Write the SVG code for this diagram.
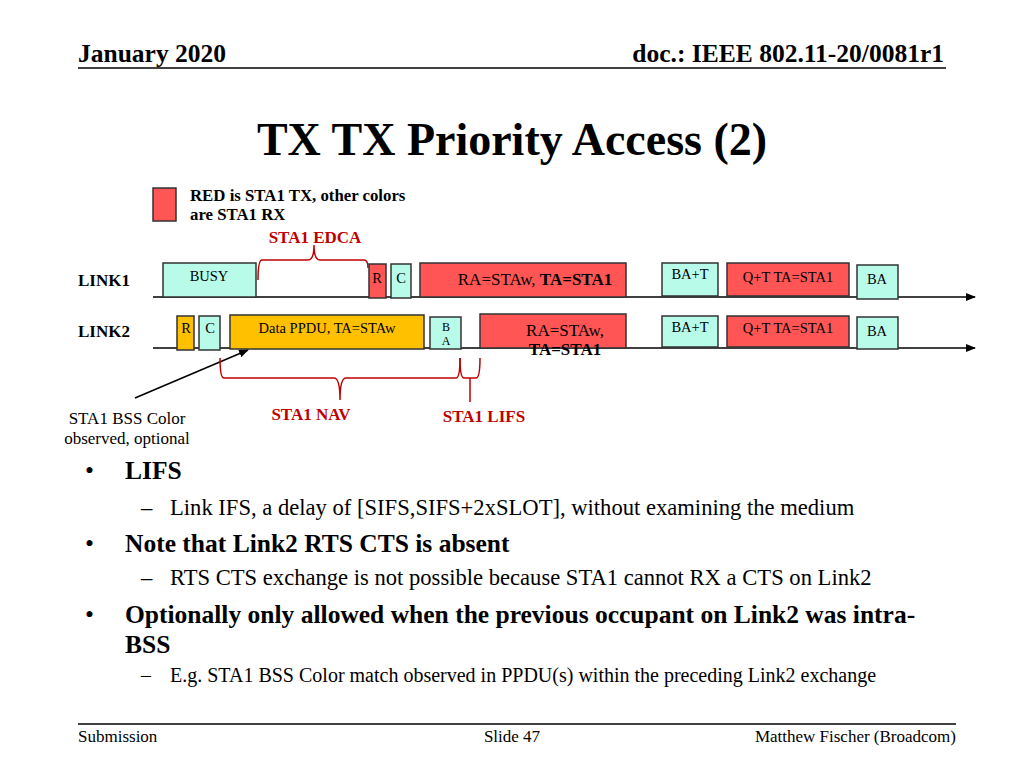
<svg xmlns="http://www.w3.org/2000/svg" width="1024" height="768" viewBox="0 0 1024 768" font-family="Liberation Serif, Times New Roman, serif">
<defs>
<marker id="ah" markerWidth="10" markerHeight="8" refX="9" refY="4" orient="auto" markerUnits="userSpaceOnUse"><path d="M0,0 L10,4 L0,8 Z" fill="#000"/></marker>
</defs>
<style>
text{fill:#000}
.b{font-weight:bold}
.red{fill:#c00000;font-weight:bold;font-size:17px}
.rx{fill:#b9fbe9;stroke:#333;stroke-width:1.5}
.tx{fill:#ff5555;stroke:#333;stroke-width:1.5}
.or{fill:#ffc000;stroke:#333;stroke-width:1.5}
.bl{font-size:14.5px}
.br{fill:none;stroke:#c00000;stroke-width:1.5}
</style>
<rect width="1024" height="768" fill="#fff"/>
<text x="78" y="62" class="b" font-size="25.5">January 2020</text>
<text x="944" y="62" class="b" font-size="25.5" text-anchor="end">doc.: IEEE 802.11-20/0081r1</text>
<line x1="78" y1="68" x2="946" y2="68" stroke="#000" stroke-width="1.5"/>
<text x="512" y="155" class="b" font-size="46" text-anchor="middle">TX TX Priority Access (2)</text>
<g id="legend"><rect x="153" y="188" width="23" height="33" class="tx"/>
<text x="190" y="201" class="b" font-size="16.8">RED is STA1 TX, other colors</text>
<text x="190" y="220" class="b" font-size="16.8">are STA1 RX</text></g>
<g id="connectors">
<line x1="153" y1="297" x2="975" y2="297" stroke="#000" stroke-width="1.5" marker-end="url(#ah)"/>
<line x1="153" y1="348" x2="975" y2="348" stroke="#000" stroke-width="1.5" marker-end="url(#ah)"/>
<line x1="135" y1="398" x2="248" y2="350" stroke="#000" stroke-width="1.5" marker-end="url(#ah)"/>
<path class="br" d="M258,280 Q258,260 262,260 L308,260 Q314,260 314,245 Q314,260 320,260 L364,260 Q368,260 368,268"/>
<path class="br" d="M220,358 Q220,378 224,378 L334,378 Q340,378 340,400 Q340,378 346,378 L456,378 Q460,378 460,358"/>
<path class="br" d="M460,358 Q460,378 464,378 L470,378 L470,402 M470,378 L476,378 Q480,378 480,358"/>
</g>
<text x="315" y="243" class="red" text-anchor="middle">STA1 EDCA</text>
<text x="311" y="420" class="red" text-anchor="middle">STA1 NAV</text>
<text x="484" y="422" class="red" text-anchor="middle">STA1 LIFS</text>
<text x="78" y="286" class="b" font-size="17">LINK1</text>
<text x="78" y="337" class="b" font-size="17">LINK2</text>
<g id="busy"><rect x="163" y="263" width="93" height="34" class="rx"/><text x="209" y="281" class="bl" text-anchor="middle">BUSY</text></g>
<g id="r1"><rect x="369" y="264" width="17" height="34" class="tx"/><text x="377" y="283" class="bl" text-anchor="middle">R</text></g>
<g id="c1"><rect x="391" y="264" width="20" height="34" class="rx"/><text x="401" y="283" class="bl" text-anchor="middle">C</text></g>
<g id="data1"><rect x="420" y="263" width="206" height="34" class="tx"/><text x="535" y="285" font-size="17" text-anchor="middle">RA=STAw, <tspan class="b">TA=STA1</tspan></text></g>
<g id="bat1"><rect x="662" y="263" width="56" height="33" class="rx"/><text x="690" y="279" class="bl" text-anchor="middle">BA+T</text></g>
<g id="qt1"><rect x="727" y="263" width="122" height="33" class="tx"/><text x="788" y="282" class="bl" text-anchor="middle">Q+T TA=STA1</text></g>
<g id="ba1"><rect x="857" y="265" width="41" height="34" class="rx"/><text x="877" y="284" class="bl" text-anchor="middle">BA</text></g>
<g id="r2"><rect x="177" y="316" width="17" height="34" class="or"/><text x="186" y="333" class="bl" text-anchor="middle">R</text></g>
<g id="c2"><rect x="199" y="316" width="21" height="34" class="rx"/><text x="210" y="333" class="bl" text-anchor="middle">C</text></g>
<g id="data2"><rect x="230" y="315" width="194" height="34" class="or"/><text x="327" y="333" class="bl" text-anchor="middle">Data PPDU, TA=STAw</text></g>
<g id="ba2a"><rect x="430" y="317" width="31" height="32" class="rx"/><text x="446" y="331" font-size="12" text-anchor="middle">B</text><text x="446" y="345" font-size="12" text-anchor="middle">A</text></g>
<g id="data3"><rect x="480" y="314" width="146" height="34" class="tx"/><text x="565" y="336" font-size="17" text-anchor="middle">RA=STAw,</text><text x="565" y="355" font-size="17" class="b" text-anchor="middle">TA=STA1</text></g>
<g id="bat2"><rect x="662" y="316" width="56" height="31" class="rx"/><text x="690" y="332" class="bl" text-anchor="middle">BA+T</text></g>
<g id="qt2"><rect x="727" y="316" width="122" height="31" class="tx"/><text x="788" y="333" class="bl" text-anchor="middle">Q+T TA=STA1</text></g>
<g id="ba2"><rect x="857" y="317" width="41" height="32" class="rx"/><text x="877" y="336" class="bl" text-anchor="middle">BA</text></g>
<text x="127" y="424" font-size="17" text-anchor="middle">STA1 BSS Color</text>
<text x="127" y="444" font-size="17" text-anchor="middle">observed, optional</text>
<g font-size="25.5">
<text x="85" y="479">•</text><text x="125" y="479" class="b">LIFS</text>
<text x="141" y="515" font-size="22.6">–</text><text x="170" y="515" font-size="22.6">Link IFS, a delay of [SIFS,SIFS+2xSLOT], without examining the medium</text>
<text x="85" y="552">•</text><text x="125" y="552" class="b">Note that Link2 RTS CTS is absent</text>
<text x="141" y="585" font-size="22.6">–</text><text x="170" y="585" font-size="22.6">RTS CTS exchange is not possible because STA1 cannot RX a CTS on Link2</text>
<text x="85" y="623">•</text><text x="125" y="623" class="b">Optionally only allowed when the previous occupant on Link2 was intra-</text>
<text x="125" y="653" class="b">BSS</text>
<text x="141" y="682" font-size="20">–</text><text x="170" y="682" font-size="20">E.g. STA1 BSS Color match observed in PPDU(s) within the preceding Link2 exchange</text>
</g>
<line x1="78" y1="724" x2="956" y2="724" stroke="#000" stroke-width="1.5"/>
<text x="78" y="742" font-size="17">Submission</text>
<text x="512" y="742" font-size="17" text-anchor="middle">Slide 47</text>
<text x="956" y="742" font-size="17" text-anchor="end">Matthew Fischer (Broadcom)</text>
</svg>
